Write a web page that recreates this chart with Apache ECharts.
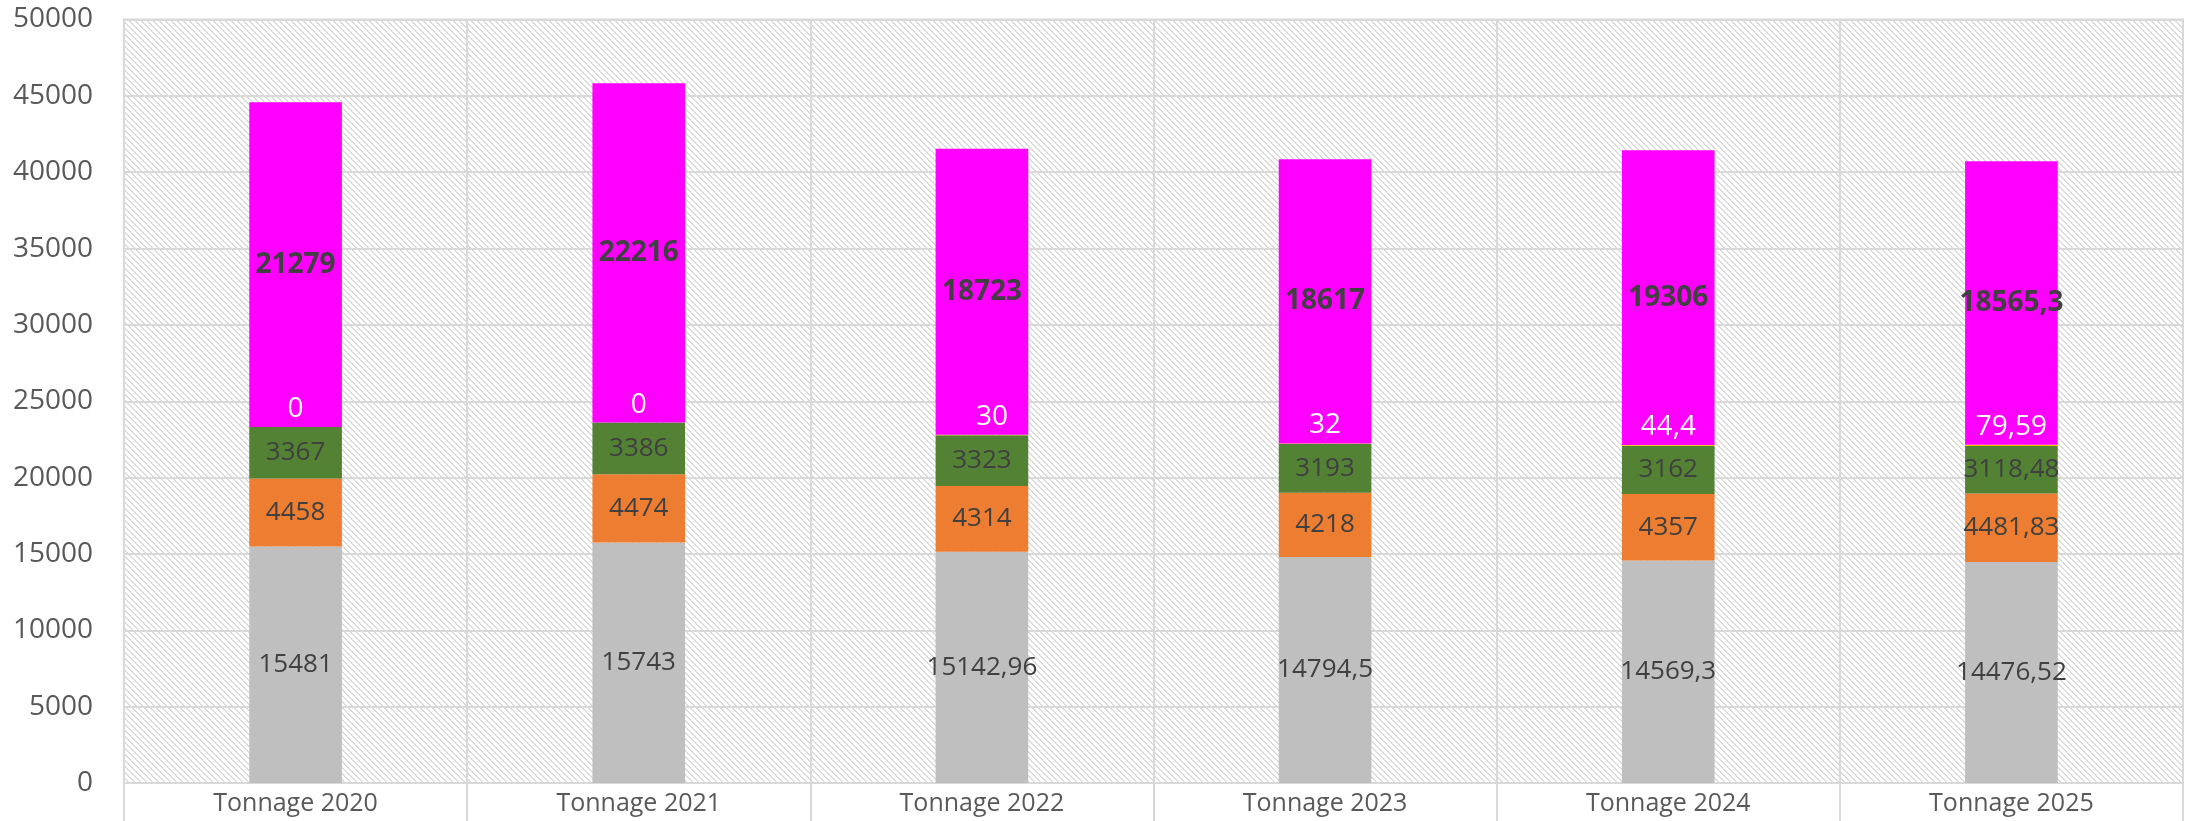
<!DOCTYPE html>
<html>
<head>
<meta charset="utf-8">
<script src="https://cdn.jsdelivr.net/npm/echarts@6/dist/echarts.min.js"></script>
<style>
  html, body { margin: 0; padding: 0; background: #ffffff; }
  #chart { width: 2189px; height: 821px; }
</style>
</head>
<body>
<div id="chart"></div>
<script>
// Categories and stacked tonnage values (bottom to top)
const categories = ['Tonnage 2020', 'Tonnage 2021', 'Tonnage 2022', 'Tonnage 2023', 'Tonnage 2024', 'Tonnage 2025'];
const greyValues = [15481, 15743, 15142.96, 14794.5, 14569.3, 14476.52];
const orangeValues = [4458, 4474, 4314, 4218, 4357, 4481.83];
const greenValues = [3367, 3386, 3323, 3193, 3162, 3118.48];
const smallValues = [0, 0, 30, 32, 44.4, 79.59];
const magentaValues = [21279, 22216, 18723, 18617, 19306, 18565.3];
const yTicks = [0, 5000, 10000, 15000, 20000, 25000, 30000, 35000, 40000, 45000, 50000];

// Diagonal hatch used as plot-area background
function makeHatch() {
  const c = document.createElement('canvas');
  const s = 6;
  c.width = s; c.height = s;
  const ctx = c.getContext('2d');
  ctx.fillStyle = '#ffffff';
  ctx.fillRect(0, 0, s, s);
  ctx.fillStyle = '#dcdcdc';
  for (let i = 0; i < s; i++) {
    ctx.fillRect(i, i, 1, 1);
    ctx.fillRect((i + 1) % s, i, 1, 1);
  }
  return c;
}

const fmt = v => String(v).replace('.', ',');
const FONT = '"Open Sans", "Noto Sans", sans-serif';

function seg(name, data, color, labelOpts) {
  return {
    name: name,
    type: 'bar',
    stack: 'total',
    data: data,
    barWidth: '27%',
    itemStyle: { color: color },
    label: Object.assign({
      show: true,
      position: 'inside',
      color: '#404040',
      fontFamily: FONT,
      fontSize: 26,
      formatter: p => fmt(p.value)
    }, labelOpts || {})
  };
}

const chart = echarts.init(document.getElementById('chart'), null, { renderer: 'canvas' });

const smallSeries = seg('small', smallValues, '#FFC000', {
  position: 'top',
  distance: 4,
  fontSize: 28,
  color: '#ffffff'
});
smallSeries.labelLine = { show: true, lineStyle: { color: '#a6a6a6', width: 1.5 } };
smallSeries.labelLayout = function (params) {
  if (params.dataIndex === 2) {
    return { dx: 10, dy: 0 };
  }
  return {};
};

chart.setOption({
  animation: false,
  backgroundColor: '#ffffff',
  grid: {
    left: 124, right: 6, top: 19.5, bottom: 38,
    show: true,
    backgroundColor: { image: makeHatch(), repeat: 'repeat' },
    borderColor: '#d9d9d9',
    borderWidth: 2
  },
  xAxis: {
    type: 'category',
    data: categories,
    boundaryGap: true,
    axisLine: { show: true, lineStyle: { color: '#d9d9d9', width: 2 } },
    axisTick: { show: true, length: 38, lineStyle: { color: '#d9d9d9', width: 2 } },
    splitLine: { show: true, lineStyle: { color: '#d9d9d9', width: 2 } },
    axisLabel: { color: '#595959', fontFamily: FONT, fontSize: 25, margin: 8 }
  },
  yAxis: {
    type: 'value',
    min: 0,
    max: yTicks[yTicks.length - 1],
    interval: yTicks[1] - yTicks[0],
    axisLine: { show: true, lineStyle: { color: '#d9d9d9', width: 2 } },
    axisTick: { show: false },
    splitLine: { show: true, lineStyle: { color: '#d9d9d9', width: 2 } },
    axisLabel: {
      color: '#595959', fontFamily: FONT, fontSize: 28, margin: 31,
      formatter: v => String(v)
    }
  },
  series: [
    seg('grey', greyValues, '#BFBFBF'),
    seg('orange', orangeValues, '#ED7D31'),
    seg('green', greenValues, '#548235'),
    smallSeries,
    seg('magenta', magentaValues, '#FF00FF', { fontWeight: 'bold', fontSize: 28 })
  ]
});
</script>
</body>
</html>
